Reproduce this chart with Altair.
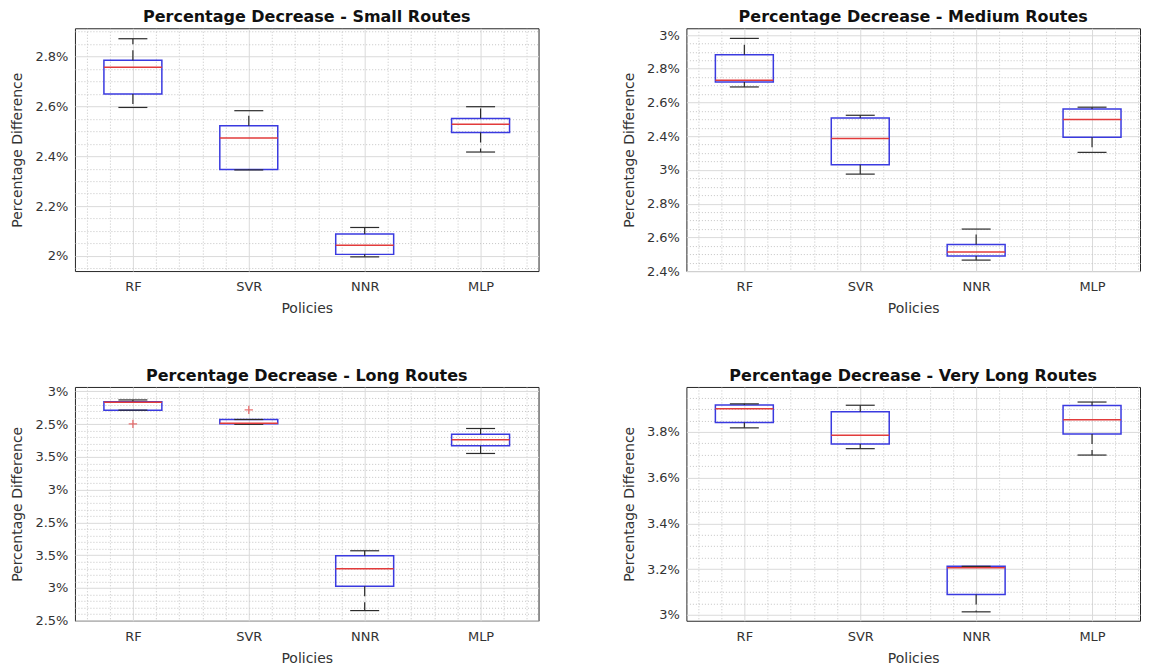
import math
import altair as alt
import pandas as pd

POLICIES = ["RF", "SVR", "NNR", "MLP"]
POSITIONS = [1, 2, 3, 4]

# ---- Small routes
SMALL_WLO = [2.596, 2.345, 1.996, 2.417]
SMALL_Q1 = [2.650, 2.347, 2.006, 2.495]
SMALL_MED = [2.757, 2.473, 2.043, 2.529]
SMALL_Q3 = [2.786, 2.523, 2.088, 2.552]
SMALL_WHI = [2.872, 2.583, 2.114, 2.599]
SMALL_OUT_POS = []
SMALL_OUT_VAL = []
SMALL_TICKS = [2.0, 2.2, 2.4, 2.6, 2.8]
SMALL_LABELS = ["2%", "2.2%", "2.4%", "2.6%", "2.8%"]

# ---- Medium routes
MED_WLO = [3.492, 2.975, 2.465, 3.104]
MED_Q1 = [3.521, 3.030, 2.489, 3.194]
MED_MED = [3.531, 3.186, 2.513, 3.299]
MED_Q3 = [3.683, 3.308, 2.558, 3.361]
MED_WHI = [3.780, 3.324, 2.649, 3.372]
MED_OUT_POS = []
MED_OUT_VAL = []
MED_TICKS = [2.4, 2.6, 2.8, 3.0, 3.2, 3.4, 3.6, 3.8]
MED_LABELS = ["2.4%", "2.6%", "2.8%", "3%", "2.4%", "2.6%", "2.8%", "3%"]

# ---- Long routes
LONG_WLO = [5.714, 5.498, 2.655, 5.053]
LONG_Q1 = [5.714, 5.505, 3.025, 5.170]
LONG_MED = [5.836, 5.515, 3.294, 5.262]
LONG_Q3 = [5.844, 5.571, 3.492, 5.348]
LONG_WHI = [5.870, 5.571, 3.568, 5.434]
LONG_OUT_POS = [1, 2]
LONG_OUT_VAL = [5.505, 5.718]
LONG_TICKS = [2.5, 3.0, 3.5, 4.0, 4.5, 5.0, 5.5, 6.0]
LONG_LABELS = ["2.5%", "3%", "3.5%", "2.5%", "3%", "3.5%", "2.5%", "3%"]

# ---- Very long routes
VL_WLO = [3.818, 3.727, 3.013, 3.699]
VL_Q1 = [3.842, 3.747, 3.089, 3.791]
VL_MED = [3.902, 3.786, 3.206, 3.854]
VL_Q3 = [3.918, 3.889, 3.212, 3.916]
VL_WHI = [3.923, 3.917, 3.212, 3.931]
VL_OUT_POS = []
VL_OUT_VAL = []
VL_TICKS = [3.0, 3.2, 3.4, 3.6, 3.8]
VL_LABELS = ["3%", "3.2%", "3.4%", "3.6%", "3.8%"]

BLUE = "#3a3ae0"
RED = "#e23b3b"
DARK = "#2b2b2b"
FONT = "DejaVu Sans"
PX_PER_UNIT = 116.0


def grid_values(lo, hi, step):
    n0 = math.ceil(lo / step - 1e-9)
    n1 = math.floor(hi / step + 1e-9)
    return [round(n * step, 4) for n in range(n0, n1 + 1)]


def panel(title, wlo, q1, med, q3, whi, out_pos, out_val, ydomain, ticks,
          labels, minor_step, width, height, title_offset):
    xmax = 0.5 + width / PX_PER_UNIT
    df = pd.DataFrame({"policy": POLICIES, "pos": POSITIONS, "wlo": wlo,
                       "q1": q1, "med": med, "q3": q3, "whi": whi})

    yvals = sorted(set(grid_values(ydomain[0], ydomain[1], minor_step)) | set(ticks))
    xvals = grid_values(0.6, xmax, 0.2)
    xmajor = [1, 2, 3, 4]

    ymaj = str(list(ticks))
    ylab = str(list(labels))
    ymin_test = f"indexof({ymaj}, datum.value) < 0"
    yaxis = alt.Axis(
        values=yvals, tickCount=len(yvals) + 10,
        labelExpr=f"indexof({ymaj}, datum.value) >= 0 ? {ylab}[indexof({ymaj}, datum.value)] : ''",
        title="Percentage Difference",
        gridDash={"condition": {"test": ymin_test, "value": [1, 2]}, "value": []},
        gridColor={"condition": {"test": ymin_test, "value": "#c4c4c4"}, "value": "#dadada"},
        labelFontSize={"condition": {"test": ymin_test, "value": 0}, "value": 13},
        labelPadding=7, minExtent=44, maxExtent=44, titlePadding=6,
        labelOverlap=False, labelFlush=False, labelBound=False,
    )
    xmaj = str(xmajor)
    xlab = str(POLICIES)
    xmin_test = f"indexof({xmaj}, datum.value) < 0"
    xaxis = alt.Axis(
        values=xvals, tickCount=len(xvals) + 10,
        labelExpr=f"indexof({xmaj}, datum.value) >= 0 ? {xlab}[indexof({xmaj}, datum.value)] : ''",
        title="Policies",
        gridDash={"condition": {"test": xmin_test, "value": [1, 2]}, "value": []},
        gridColor={"condition": {"test": xmin_test, "value": "#c4c4c4"}, "value": "#dadada"},
        labelFontSize={"condition": {"test": xmin_test, "value": 0}, "value": 13},
        labelPadding=9.5, titlePadding=8, labelAngle=0,
        labelOverlap=False, labelFlush=False, labelBound=False,
    )
    xscale = alt.Scale(domain=[0.5, xmax], nice=False, zero=False)
    yscale = alt.Scale(domain=list(ydomain), nice=False, zero=False)

    base = alt.Chart(df).transform_calculate(
        xl="datum.pos - 0.25", xr="datum.pos + 0.25",
        cl="datum.pos - 0.125", cr="datum.pos + 0.125",
    )

    box = base.mark_rect(fillOpacity=0, stroke=BLUE, strokeWidth=1.5).encode(
        x=alt.X("xl:Q", scale=xscale, axis=xaxis),
        x2="xr:Q",
        y=alt.Y("q1:Q", scale=yscale, axis=yaxis),
        y2="q3:Q",
    )
    up = base.mark_rule(color=DARK, strokeWidth=1.2, strokeDash=[10, 6]).encode(
        x=alt.X("pos:Q"), y=alt.Y("q3:Q"), y2="whi:Q")
    lo = base.mark_rule(color=DARK, strokeWidth=1.2, strokeDash=[10, 6]).encode(
        x=alt.X("pos:Q"), y=alt.Y("q1:Q"), y2="wlo:Q")
    cap_hi = base.mark_rule(color=DARK, strokeWidth=1.2).encode(
        x=alt.X("cl:Q"), x2="cr:Q", y=alt.Y("whi:Q"))
    cap_lo = base.mark_rule(color=DARK, strokeWidth=1.2).encode(
        x=alt.X("cl:Q"), x2="cr:Q", y=alt.Y("wlo:Q"))
    median = base.mark_rule(color=RED, strokeWidth=1.5).encode(
        x=alt.X("xl:Q"), x2="xr:Q", y=alt.Y("med:Q"))

    layers = [box, up, lo, cap_hi, cap_lo, median]
    if out_pos:
        odf = pd.DataFrame({"pos": out_pos, "val": out_val})
        outl = alt.Chart(odf).mark_point(
            shape="M-1,0L1,0M0,-1L0,1", size=70, stroke=RED, strokeWidth=1.3, filled=False
        ).encode(x=alt.X("pos:Q"), y=alt.Y("val:Q"))
        layers.append(outl)

    return alt.layer(*layers).properties(
        width=width, height=height,
        view=alt.ViewBackground(stroke="#262626", strokeWidth=1),
        title=alt.TitleParams(title, fontSize=16, fontWeight="bold", font=FONT,
                              color="#111111", offset=title_offset, anchor="middle",
                              frame="group"),
    )


p1 = panel("Percentage Decrease - Small Routes", SMALL_WLO, SMALL_Q1, SMALL_MED, SMALL_Q3,
           SMALL_WHI, SMALL_OUT_POS, SMALL_OUT_VAL, (1.939, 2.914), SMALL_TICKS,
           SMALL_LABELS, 0.05, 464, 243, 3)
p2 = panel("Percentage Decrease - Medium Routes", MED_WLO, MED_Q1, MED_MED, MED_Q3,
           MED_WHI, MED_OUT_POS, MED_OUT_VAL, (2.4, 3.84), MED_TICKS,
           MED_LABELS, 0.05, 454, 243, 3)
p3 = panel("Percentage Decrease - Long Routes", LONG_WLO, LONG_Q1, LONG_MED, LONG_Q3,
           LONG_WHI, LONG_OUT_POS, LONG_OUT_VAL, (2.5, 6.068), LONG_TICKS,
           LONG_LABELS, 0.1, 464, 234, 1)
p4 = panel("Percentage Decrease - Very Long Routes", VL_WLO, VL_Q1, VL_MED, VL_Q3,
           VL_WHI, VL_OUT_POS, VL_OUT_VAL, (2.974, 3.997), VL_TICKS,
           VL_LABELS, 0.05, 454, 234, 3)

top = alt.hconcat(p1, p2, spacing=82)
bottom = alt.hconcat(p3, p4, spacing=82)
chart = alt.vconcat(top, bottom, spacing=51).properties(
    padding={"left": 2, "top": 0, "right": 0, "bottom": 0},
    background="white",
).configure_view(
    stroke="#262626", strokeWidth=1
).configure_axis(
    labelFont=FONT, labelFontSize=13, labelColor="#333333",
    titleFont=FONT, titleFontSize=14, titleFontWeight="normal", titleColor="#333333",
    domain=False, ticks=False, gridWidth=1,
)

chart.save("out.html", embed_options={"renderer": "svg", "actions": False})
